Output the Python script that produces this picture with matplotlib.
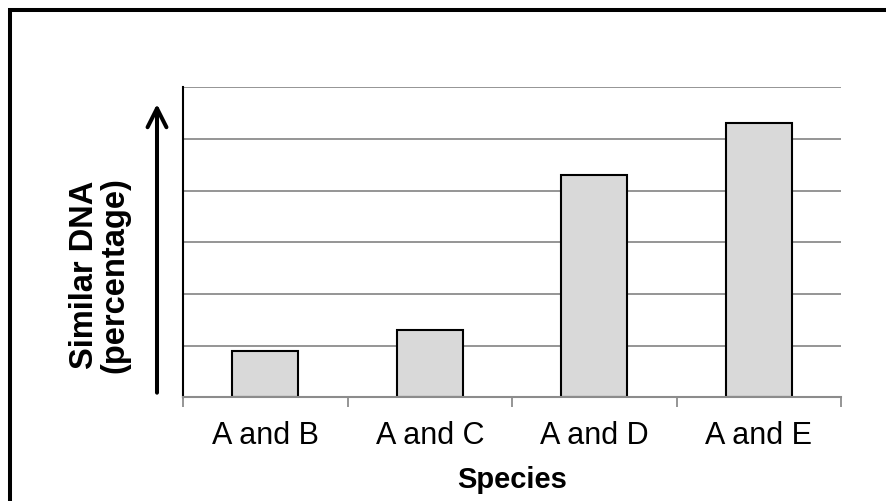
import matplotlib
matplotlib.use("Agg")
import matplotlib.pyplot as plt
from matplotlib.patches import Rectangle, FancyArrowPatch

plt.rcParams['font.family'] = ['Liberation Sans', 'DejaVu Sans']

# дані
species = ['A and B', 'A and C', 'A and D', 'A and E']
similar_dna = [0.90, 1.30, 4.30, 5.31]
y_ticks = [0, 1, 2, 3, 4, 5, 6]

W, H = 886, 501
fig = plt.figure(figsize=(W / 100, H / 100), dpi=100)
ax = fig.add_axes([183 / W, 1 - 397.3 / H, (841 - 183) / W, (397.3 - 87.3) / H])

x = list(range(len(species)))
ax.bar(x, similar_dna, width=0.4, color='#d9d9d9', edgecolor='black',
       linewidth=1.5, zorder=3)

ax.set_xlim(-0.5, len(species) - 0.5)
ax.set_ylim(0, 6)
ax.set_yticks(y_ticks)
ax.yaxis.grid(True, color='#8c8c8c', linewidth=1.3, zorder=0)
ax.tick_params(axis='y', length=0, labelleft=False)

ax.set_xticks(x)
ax.set_xticklabels(species, fontsize=22)
ax.set_xticks([i - 0.5 for i in range(len(species) + 1)], minor=True)
ax.tick_params(axis='x', which='major', length=0, pad=17)
ax.tick_params(axis='x', which='minor', length=7, width=1.3, color='#8c8c8c', direction='out')
ax.set_xlabel('Species', fontsize=21, fontweight='bold', labelpad=11)

for s in ['top', 'right']:
    ax.spines[s].set_visible(False)
ax.spines['bottom'].set_color('#8c8c8c')
ax.spines['bottom'].set_linewidth(1.5)
ax.spines['left'].set_color('black')
ax.spines['left'].set_linewidth(1.5)
ax.spines['bottom'].set_zorder(4)

# підпис осі y
fig.text(99.5 / W, 1 - 275 / H, 'Similar DNA\n(percentage)', rotation=90,
         ha='center', va='center', multialignment='center',
         fontsize=23.5, fontweight='bold', linespacing=0.95)

# стрілка
arrow = FancyArrowPatch((157 / W, 1 - 392.7 / H), (157 / W, 1 - 104 / H),
                        transform=fig.transFigure, arrowstyle='->,head_length=13.5,head_width=6.8',
                        mutation_scale=1, linewidth=2.9, color='black',
                        shrinkA=0, shrinkB=0)
fig.add_artist(arrow)

# рамка
fig.add_artist(Rectangle((10 / W, -3 / H), 1.05, 1 - 7 / H, transform=fig.transFigure,
                         fill=False, edgecolor='black', linewidth=2.9, clip_on=False))

fig.savefig('out.png', dpi=100)
